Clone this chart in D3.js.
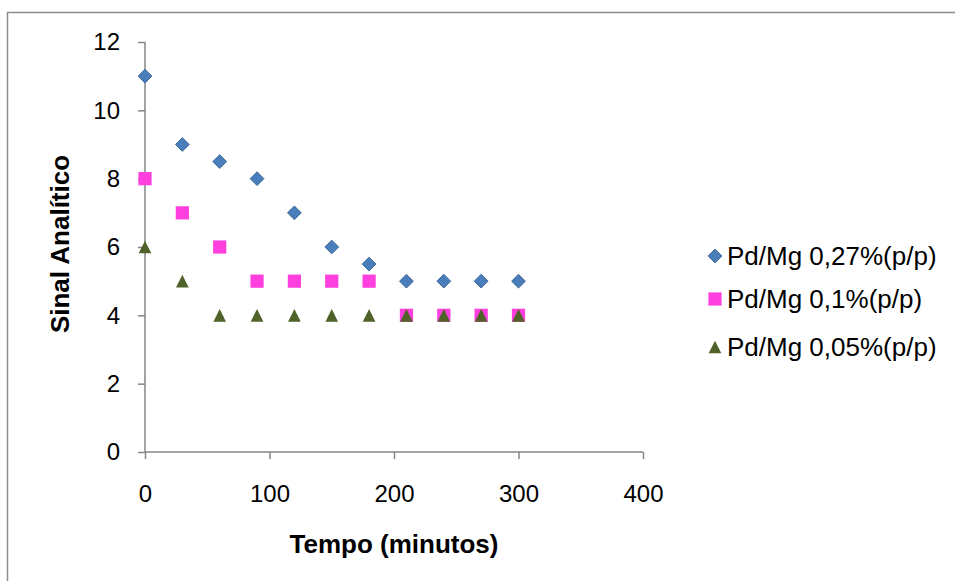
<!DOCTYPE html>
<html><head><meta charset="utf-8">
<script src="https://cdn.jsdelivr.net/npm/d3@7"></script>
<style>body{margin:0;background:#fff}svg{display:block;font-family:"Liberation Sans",Arial,sans-serif}</style>
</head><body><svg id="c" width="955" height="581"></svg>
<script>
const tempos = [0,30,60,90,120,150,180,210,240,270,300];
const serieA = [11,9,8.5,8,7,6,5.5,5,5,5,5];
const serieB = [8,7,6,5,5,5,5,4,4,4,4];
const serieC = [6,5,4,4,4,4,4,4,4,4,4];
const seriesNames = ["Pd/Mg 0,27%(p/p)","Pd/Mg 0,1%(p/p)","Pd/Mg 0,05%(p/p)"];
const xTicks = [0,100,200,300,400];
const yTicks = [0,2,4,6,8,10,12];

const svg = d3.select("#c");
svg.append("rect").attr("x",7.5).attr("y",12.5).attr("width",1000).attr("height",1000)
  .attr("fill","none").attr("stroke","#8c8c8c").attr("stroke-width",1.5);

const x = d3.scaleLinear().domain([0,400]).range([145,643]);
const y = d3.scaleLinear().domain([0,12]).range([452,42]);
const axisColor = "#868686";

const gx = svg.append("g").attr("transform","translate(0,"+y(0)+")")
  .call(d3.axisBottom(x).tickValues(xTicks).tickSize(7).tickPadding(26).tickSizeOuter(0));
const gy = svg.append("g").attr("transform","translate("+x(0)+",0)")
  .call(d3.axisLeft(y).tickValues(yTicks).tickSize(7).tickPadding(18).tickSizeOuter(0));
[gx,gy].forEach(g=>{
  g.attr("font-size",24).attr("font-family","Liberation Sans, Arial, sans-serif");
  g.selectAll("path,line").attr("stroke",axisColor).attr("stroke-width",1.5);
  g.selectAll("text").attr("fill","#000");
});
gy.select(".domain").attr("d","M0,"+y(0)+"V"+y(12));
gx.select(".domain").attr("d","M"+x(0)+",0H"+x(400));

svg.append("text").attr("x",(x(0)+x(400))/2).attr("y",553).attr("text-anchor","middle")
  .attr("font-size",26).attr("font-weight","bold").text("Tempo (minutos)");
svg.append("text").attr("transform","translate(69,"+244+") rotate(-90)").attr("text-anchor","middle")
  .attr("font-size",26).attr("font-weight","bold").text("Sinal Analítico");

// isosceles triangle, width = height = sqrt(size)
const triUp = {draw(ctx,size){const h=Math.sqrt(size)/2; ctx.moveTo(0,-h); ctx.lineTo(h,h); ctx.lineTo(-h,h); ctx.closePath();}};

const styles = [
  {vals:serieA, sym:d3.symbolDiamond2, size:120, fill:"#4a7ebb", stroke:"#3b6596"},
  {vals:serieB, sym:d3.symbolSquare, size:175, fill:"#ff40df", stroke:"none"},
  {vals:serieC, sym:triUp, size:160, fill:"#4f6228", stroke:"none"}
];
styles.forEach((s,i)=>{
  svg.append("g").selectAll("path").data(tempos.map((t,j)=>[t,s.vals[j]])).join("path")
    .attr("transform",d=>"translate("+x(d[0])+","+y(d[1])+")")
    .attr("d",d3.symbol().type(s.sym).size(s.size))
    .attr("fill",s.fill).attr("stroke",s.stroke).attr("stroke-width",1);
});

const legY = [256,299,347];
const lg = svg.append("g");
styles.forEach((s,i)=>{
  lg.append("path").attr("transform","translate(715,"+legY[i]+")")
    .attr("d",d3.symbol().type(s.sym).size(s.size)).attr("fill",s.fill).attr("stroke",s.stroke);
  lg.append("text").attr("x",727).attr("y",legY[i]).attr("dy","0.36em").attr("font-size",26).text(seriesNames[i]);
});
</script></body></html>
